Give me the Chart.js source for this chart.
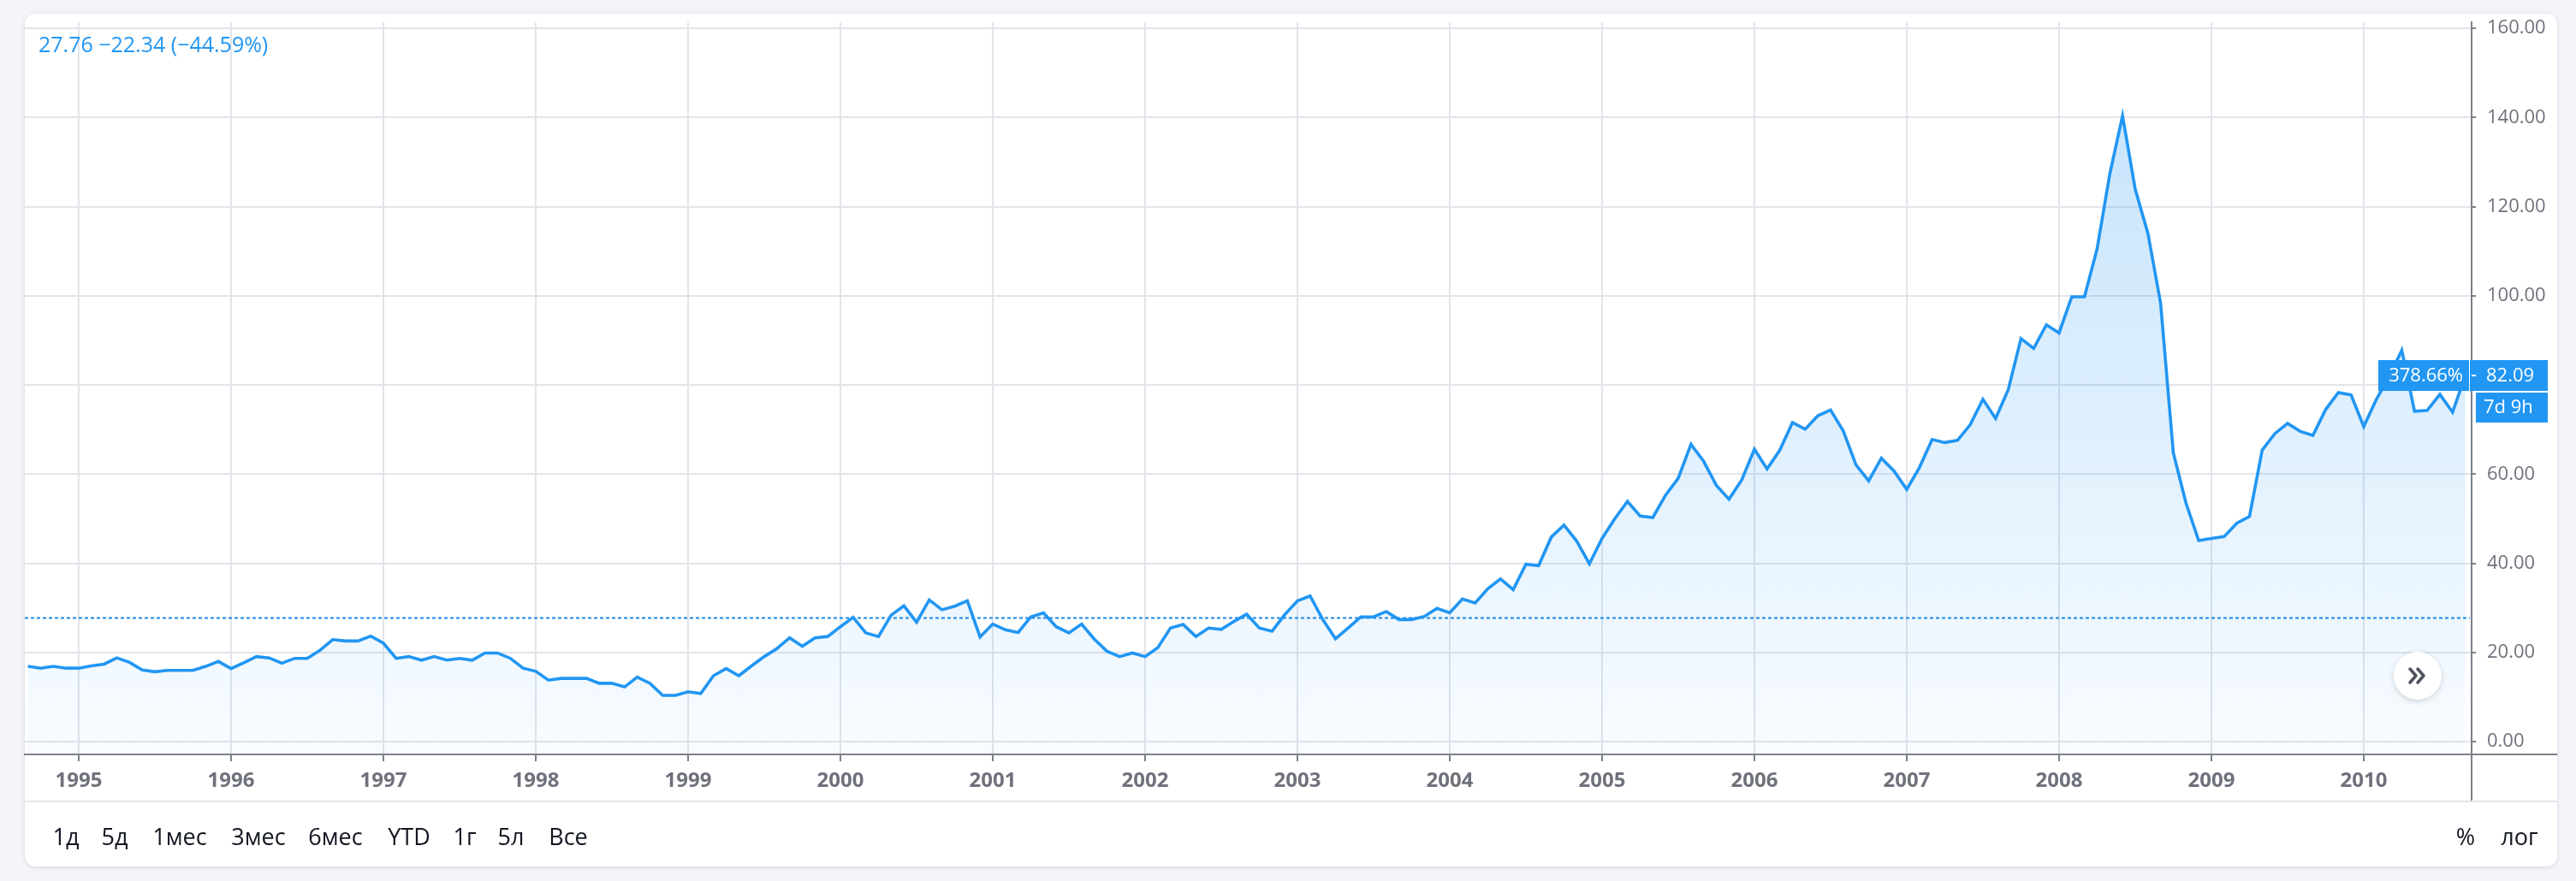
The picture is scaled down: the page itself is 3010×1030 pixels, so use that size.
<!DOCTYPE html>
<html><head><meta charset="utf-8">
<script src="https://cdn.jsdelivr.net/npm/chart.js@4.4.1/dist/chart.umd.min.js"></script>
<style>
html,body{margin:0;padding:0;width:3010px;height:1030px;overflow:hidden;background:#f3f5f9;font-family:"Open Sans",sans-serif;}
#card{position:absolute;left:29px;top:16px;width:2959px;height:997px;background:#fff;border-radius:12px;box-shadow:0 1px 5px rgba(20,30,60,0.14);}
#c{position:absolute;left:0;top:0;}
.legend{position:absolute;left:45px;top:51px;transform:translateY(-50%);color:#2196f3;font-size:25px;white-space:nowrap;}
.btn{position:absolute;top:977px;transform:translate(-50%,-50%);font-size:27px;color:#131722;white-space:nowrap;}
#nav{position:absolute;left:2797px;top:762px;width:56px;height:56px;border-radius:50%;background:#fff;box-shadow:0 2px 7px rgba(0,0,0,0.16);}
#nav svg{position:absolute;left:0;top:0;}
</style></head>
<body>
<div id="card"></div>
<canvas id="c" width="3010" height="1030"></canvas>
<div class="legend">27.76 −22.34 (−44.59%)</div>
<div class="btn" style="left:77px">1д</div>
<div class="btn" style="left:134px">5д</div>
<div class="btn" style="left:210px">1мес</div>
<div class="btn" style="left:302px">3мес</div>
<div class="btn" style="left:392px">6мес</div>
<div class="btn" style="left:478px">YTD</div>
<div class="btn" style="left:543px">1г</div>
<div class="btn" style="left:597px">5л</div>
<div class="btn" style="left:664px">Все</div>
<div class="btn" style="left:2881px">%</div>
<div class="btn" style="left:2944px">лог</div>
<div id="nav"><svg width="56" height="56" viewBox="0 0 56 56"><path d="M19 20 L26 28 L19 36 M28 20 L35 28 L28 36" fill="none" stroke="#50535e" stroke-width="3.5" stroke-linecap="round" stroke-linejoin="round"/></svg></div>
<script>
// ---- data ----
const startYear = 1994;   // first monthly point: September 1994
const startMonth = 9;
const values = [
 16.9,16.5,16.9,16.5,
 16.5,17.0,17.4,18.8,17.8,16.1,15.7,16.0,16.0,16.0,16.9,18.0,
 16.4,17.7,19.1,18.8,17.6,18.7,18.7,20.5,22.9,22.6,22.6,23.7,
 22.1,18.7,19.1,18.3,19.1,18.3,18.7,18.3,19.9,19.9,18.7,16.5,
 15.8,13.8,14.2,14.2,14.2,13.1,13.1,12.3,14.5,13.1,10.4,10.4,
 11.2,10.8,14.8,16.4,14.8,17.0,19.1,20.9,23.3,21.4,23.3,23.6,
 25.8,27.9,24.4,23.6,28.4,30.5,26.8,31.8,29.6,30.4,31.6,23.5,
 26.4,25.1,24.5,28.0,28.9,25.8,24.4,26.4,23.0,20.3,19.1,19.9,
 19.1,21.1,25.5,26.3,23.6,25.5,25.2,27.0,28.6,25.5,24.8,28.5,
 31.6,32.7,27.4,23.1,25.5,28.0,28.0,29.2,27.4,27.4,28.1,29.9,
 28.9,32.0,31.1,34.3,36.5,34.1,39.8,39.5,45.9,48.6,45.0,39.9,
 45.6,50.0,53.9,50.6,50.3,55.3,59.1,66.7,62.9,57.5,54.4,58.7,
 65.6,61.2,65.4,71.6,70.1,73.1,74.4,69.7,62.1,58.5,63.6,60.7,
 56.6,61.5,67.8,67.1,67.6,71.1,76.8,72.5,79.0,90.4,88.2,93.5,
 91.7,99.8,99.8,110.6,127.4,140.4,123.9,114.0,98.3,64.8,53.5,45.1,
 45.6,46.0,49.0,50.5,65.4,69.1,71.4,69.6,68.7,74.5,78.3,77.8,
 70.7,76.8,81.9,87.8,74.1,74.3,77.9,73.9,82.09
];
const yearTicks = [1995,1996,1997,1998,1999,2000,2001,2002,2003,2004,2005,2006,2007,2008,2009,2010];
const yearLabels = ['1995','1996','1997','1998','1999','2000','2001','2002','2003','2004','2005','2006','2007','2008','2009','2010'];
const priceTicks = [0,20,40,60,80,100,120,140,160];
const baseValue = 27.76;
const pctLabel = '378.66%';
const timeLabel = '7d 9h';

const points = values.map((v,i)=>({x: startYear + (startMonth-1+i)/12, y: v}));
const GRAY = '#7d808a';
const TXT = '#6f727c';

const overlay = {
  id:'overlay',
  beforeDatasetsDraw(chart){
    const {ctx, chartArea, scales:{y}} = chart;
    const py = Math.round(y.getPixelForValue(baseValue)) + 0.5;
    ctx.save();
    ctx.strokeStyle = '#1e88e5'; ctx.lineWidth = 2; ctx.setLineDash([4,3]);
    ctx.beginPath(); ctx.moveTo(chartArea.left, py); ctx.lineTo(chartArea.right-2, py); ctx.stroke();
    ctx.restore();
  },
  afterDraw(chart){
    const {ctx, chartArea, scales:{y}} = chart;
    ctx.save();
    ctx.strokeStyle = GRAY; ctx.lineWidth = 2;
    ctx.beginPath(); ctx.moveTo(chartArea.right, chartArea.bottom); ctx.lineTo(chartArea.right, 937); ctx.stroke();
    ctx.beginPath(); ctx.moveTo(chartArea.right, chartArea.bottom); ctx.lineTo(2988, chartArea.bottom); ctx.stroke();
    ctx.strokeStyle = '#e4e6ec';
    ctx.beginPath(); ctx.moveTo(29, 937); ctx.lineTo(2988, 937); ctx.stroke();
    const last = values[values.length-1];
    const ly = Math.round(y.getPixelForValue(last));
    ctx.fillStyle = '#2196f3';
    ctx.fillRect(2779, ly-18, 106, 36);
    ctx.fillRect(2886, ly-18, 91, 36);
    ctx.fillRect(2893, ly+20, 84, 35);
    ctx.fillStyle = '#fff';
    ctx.fillRect(2888, ly-1, 5, 2);
    ctx.font = '22px "Open Sans"';
    ctx.textBaseline = 'middle';
    ctx.textAlign = 'right'; ctx.fillText(pctLabel, 2878, ly+1);
    ctx.textAlign = 'left'; ctx.fillText(last.toFixed(2), 2905, ly+1);
    ctx.fillText(timeLabel, 2902, ly+38);
    ctx.restore();
  }
};

new Chart(document.getElementById('c'), {
  type:'line',
  data:{datasets:[{
    data: points,
    borderColor:'#2196f3',
    borderWidth:3.6,
    pointRadius:0,
    tension:0,
    fill:'start',
    backgroundColor:(c)=>{
      const ch = c.chart; const ca = ch.chartArea;
      if(!ca) return 'rgba(33,150,243,0.1)';
      const top = ch.scales.y.getPixelForValue(Math.max(...values));
      const g = ch.ctx.createLinearGradient(0, top, 0, ca.bottom);
      g.addColorStop(0,'rgba(33,150,243,0.25)');
      g.addColorStop(1,'rgba(33,150,243,0.03)');
      return g;
    }
  }]},
  options:{
    responsive:false, animation:false, devicePixelRatio:1,
    layout:{padding:{left:29, top:16, right:0, bottom:0}},
    plugins:{legend:{display:false}, tooltip:{enabled:false}},
    scales:{
      x:{
        type:'linear', position:'bottom',
        min:1994.646, max:2010.708,
        afterBuildTicks:(s)=>{ s.ticks = yearTicks.map(v=>({value:v})); },
        afterFit:(s)=>{ s.height = 148; },
        ticks:{
          autoSkip:false, maxRotation:0, padding:9,
          color:TXT, font:{family:'"Open Sans"', size:24, weight:'bold'},
          callback:(v)=> yearLabels[yearTicks.indexOf(v)]
        },
        grid:{color:'#e2e4ea', lineWidth:2, tickLength:8, tickColor:GRAY, tickWidth:2},
        border:{display:true, color:GRAY, width:2}
      },
      y:{
        type:'linear', position:'right',
        min:-2.844, max:161.327,
        afterBuildTicks:(s)=>{ s.ticks = priceTicks.map(v=>({value:v})); },
        afterFit:(s)=>{ s.width = 122; },
        ticks:{
          padding:13, color:TXT, font:{family:'"Open Sans"', size:22},
          callback:(v)=> v.toFixed(2)
        },
        grid:{color:'#e2e4ea', lineWidth:2, tickLength:5, tickColor:GRAY, tickWidth:2},
        border:{display:true, color:GRAY, width:2}
      }
    }
  },
  plugins:[overlay]
});
</script>
</body></html>
